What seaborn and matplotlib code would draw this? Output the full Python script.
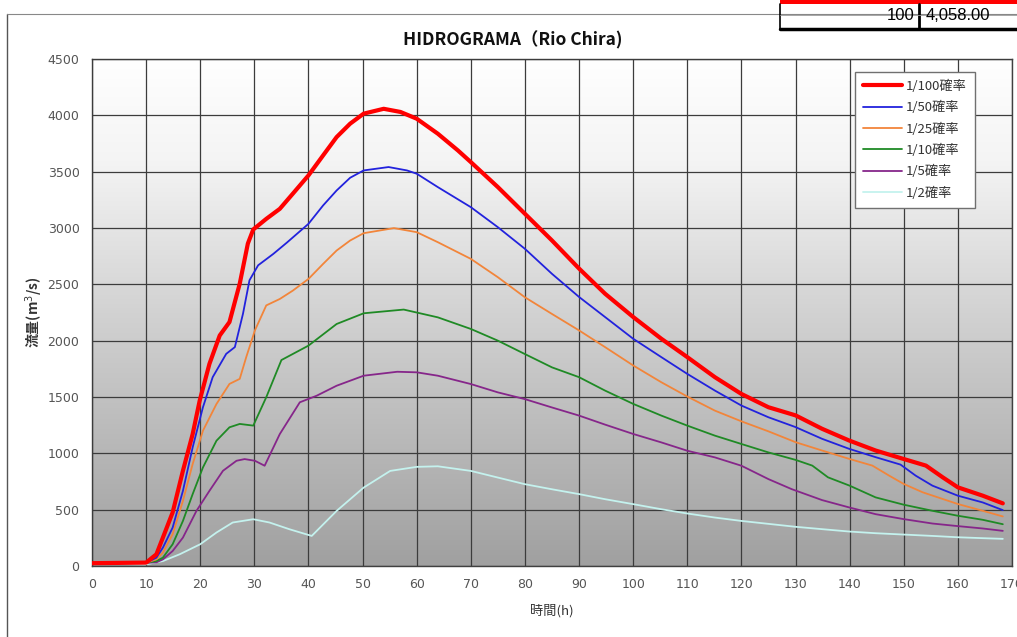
import numpy as np
import pandas as pd
import matplotlib
matplotlib.use("Agg")
import matplotlib.pyplot as plt
from matplotlib.patches import Rectangle
from matplotlib.lines import Line2D
import seaborn as sns

# ---------------- data ----------------
labels = ["1/100確率", "1/50確率", "1/25確率", "1/10確率", "1/5確率", "1/2確率"]

t_100 = [0, 10, 11.9, 13.1, 14.9, 16.8, 18.6, 19.9, 21.7, 23.6, 25.4, 27.3, 28.8, 29.8, 32.2, 34.7,
         37.1, 40, 42.7, 45.2, 47.7, 50.2, 53.9, 57, 60, 63.9, 67.6, 70, 75, 80, 85, 90, 94.8, 100,
         105.2, 110, 115.1, 120, 125, 130, 134.9, 139.9, 144.8, 149.9, 154.1, 157.2, 160, 164.6, 168.3]
q_100 = [25, 30, 104, 252, 475, 845, 1171, 1468, 1794, 2046, 2165, 2506, 2862, 2987, 3081, 3170,
         3304, 3467, 3644, 3807, 3926, 4015, 4058, 4030, 3970, 3837, 3689, 3585, 3363, 3126, 2889, 2640, 2417, 2210,
         2017, 1854, 1676, 1527, 1409, 1337, 1218, 1114, 1025, 951, 891, 787, 698, 624, 556]

t_50 = [0, 10, 11.9, 13.1, 14.9, 16.8, 18.6, 20.5, 22.3, 24.8, 26.4, 27.9, 29.1, 30.7, 33.5, 36,
        40, 42.7, 45.2, 47.7, 50.2, 54.8, 58.2, 60, 63.9, 70, 75, 80, 85, 90, 94.8, 100, 105.2, 110,
        115.1, 120, 125, 130, 134.9, 139.9, 144.8, 149.4, 152.2, 155.3, 160, 164.6, 168.3]
q_50 = [25, 28, 74, 163, 341, 667, 1053, 1409, 1676, 1883, 1943, 2239, 2536, 2669, 2770, 2870,
        3037, 3200, 3333, 3446, 3511, 3541, 3511, 3482, 3363, 3185, 3007, 2815, 2593, 2388, 2210, 2017, 1854, 1705,
        1557, 1424, 1320, 1233, 1129, 1040, 966, 900, 802, 713, 624, 564, 496]

t_25 = [0, 10, 11.9, 13.1, 14.9, 16.8, 18.6, 20.5, 23, 25.4, 27.3, 28.5, 30.1, 32.2, 34.7, 37.1,
        40, 42.7, 45.2, 47.7, 50.2, 55.8, 60, 63.9, 70, 75, 80, 85, 90, 94.8, 100, 105.2, 110,
        115.1, 120, 125, 130, 134.9, 139.9, 144.2, 147.3, 150, 153.5, 160, 164.6, 168.3]
q_25 = [25, 28, 59, 119, 282, 578, 905, 1201, 1438, 1616, 1661, 1854, 2091, 2313, 2370, 2444,
        2548, 2681, 2800, 2889, 2954, 2999, 2963, 2874, 2726, 2563, 2385, 2237, 2091, 1943, 1780, 1631, 1504,
        1379, 1284, 1195, 1099, 1025, 951, 891, 802, 728, 654, 550, 490, 440]

t_10 = [0, 10, 11.9, 13.1, 14.9, 16.8, 18.6, 20.5, 23, 25.4, 27.3, 29.8, 32.2, 35, 40, 45.2,
        50.2, 57.6, 63.9, 70, 75, 80, 85, 90, 94.8, 100, 105.2, 110, 115.1, 120, 125, 130, 133.1,
        136, 140, 144.8, 150, 155.3, 160, 164.6, 168.3]
q_10 = [25, 28, 44, 74, 193, 400, 638, 875, 1112, 1231, 1261, 1246, 1498, 1828, 1956, 2148,
        2243, 2276, 2207, 2104, 2000, 1881, 1763, 1676, 1557, 1439, 1335, 1246, 1157, 1083, 1008, 942, 891,
        787, 713, 609, 544, 490, 446, 410, 371]

t_5 = [0, 10, 11.9, 13.1, 14.9, 16.8, 19.3, 21.7, 24.2, 26.7, 28.2, 30.1, 31.9, 34.7, 38.4, 41.5,
       45.2, 50.2, 56.4, 60, 63.9, 70, 75, 80, 85, 90, 94.8, 100, 105.2, 110, 115.1, 120, 125,
       129.3, 134.9, 139.9, 144.8, 150, 155.3, 160, 164.6, 168.3]
q_5 = [25, 28, 32, 59, 133, 252, 489, 667, 845, 934, 949, 934, 890, 1171, 1453, 1511,
       1600, 1689, 1724, 1719, 1689, 1615, 1541, 1481, 1407, 1335, 1255, 1172, 1097, 1023, 964, 890, 771,
       682, 585, 520, 460, 416, 377, 354, 333, 312]

t_2 = [0, 10, 13.1, 16.2, 20, 23, 26, 29.8, 32.8, 36.5, 40.6, 45.2, 50.2, 55.1, 60, 63.9, 70,
       75, 80, 85, 90, 94.8, 100, 105.2, 110, 115.1, 120, 130, 134.9, 139.9, 144.8, 150, 155.3,
       160, 164.6, 168.3]
q_2 = [20, 15, 44, 104, 193, 297, 386, 415, 386, 326, 267, 489, 696, 844, 880, 885, 844,
       785, 726, 681, 638, 593, 549, 504, 466, 430, 400, 348, 327, 306, 291, 279, 267,
       255, 247, 241]

x_ticks = list(range(0, 171, 10))
y_ticks = list(range(0, 4501, 500))

# ---------------- styling ----------------
colors = ["#ff0000", "#2222dd", "#f2853a", "#1f8a25", "#86268a", "#c4f2ee"]
widths = [3.0, 1.3, 1.3, 1.3, 1.3, 1.3]

sns.set_theme(style="white")
plt.rcParams['font.family'] = ['DejaVu Sans', 'Noto Sans CJK JP']
cjk = ['Noto Sans CJK JP', 'DejaVu Sans']

fig = plt.figure(figsize=(10.17, 6.37), dpi=100)
fig.patch.set_facecolor("white")

W, H = 1017.0, 637.0
ax = fig.add_axes([92 / W, 1 - 566 / H, (1012 - 92) / W, (566 - 59) / H])

# gradient background
grad = np.linspace(0, 1, 256).reshape(-1, 1)
cmap = matplotlib.colors.LinearSegmentedColormap.from_list(
    "g", [(0.0, "#a0a0a0"), (0.5, "#d2d2d2"), (0.8, "#f4f4f4"), (1.0, "#ffffff")])
ax.imshow(grad, aspect="auto", cmap=cmap, origin="lower", extent=[0, 1, 0, 1],
          transform=ax.transAxes, zorder=0)

series = [(t_100, q_100), (t_50, q_50), (t_25, q_25), (t_10, q_10), (t_5, q_5), (t_2, q_2)]
# draw from back (1/2) to front (1/100)
for i in reversed(range(len(series))):
    t, q = series[i]
    df = pd.DataFrame({"t": t, "Q": q})
    sns.lineplot(data=df, x="t", y="Q", ax=ax, color=colors[i], linewidth=widths[i],
                 sort=False, estimator=None, legend=False, zorder=3 + (6 - i))

ax.set_xlim(0, 170)
ax.set_ylim(0, 4500)
ax.set_xticks(x_ticks)
ax.set_yticks(y_ticks)
ax.grid(True, color="#3c3c3c", linewidth=0.9, zorder=1)
ax.set_axisbelow(False)
for gl in ax.get_xgridlines() + ax.get_ygridlines():
    gl.set_zorder(1)
for s in ax.spines.values():
    s.set_color("#404040")
    s.set_linewidth(1.0)
ax.tick_params(axis="both", length=0, labelsize=9, colors="#555555", pad=9)

ax.set_xlabel("時間(h)", family=cjk, fontsize=9.5, color="#333333", labelpad=9)
ax.set_ylabel("流量(m$^3$/s)", family=cjk, fontsize=10, fontweight="bold",
              color="#333333", labelpad=2)
ax.set_title("HIDROGRAMA（Rio Chira)", family=cjk, fontsize=12.5, fontweight="bold",
             color="#111111", pad=10, x=(513 - 92) / 920.0)

handles = [Line2D([0], [0], color=colors[i], lw=(3 if i == 0 else 1.3)) for i in range(6)]
leg = ax.legend(handles, labels, loc="upper left", bbox_to_anchor=(0.829, 0.975),
                prop={"family": cjk, "size": 9.5}, frameon=True, fancybox=False,
                handlelength=3.0, handletextpad=0.3, labelspacing=0.62,
                borderpad=0.6, borderaxespad=0)
leg.get_frame().set_edgecolor("#707070")
leg.get_frame().set_linewidth(1.0)
leg.get_frame().set_facecolor("white")
leg.get_frame().set_alpha(1)
for txt in leg.get_texts():
    txt.set_color("#333333")

# chart outer frame
fig.add_artist(Line2D([7 / W, 7 / W], [0, 1 - 14 / H], transform=fig.transFigure,
                      color="#555555", lw=1.0))
fig.add_artist(Line2D([7 / W, 1.0], [1 - 14 / H, 1 - 14 / H], transform=fig.transFigure,
                      color="#888888", lw=0.8))

# fragment of table at top right
fig.add_artist(Rectangle((780 / W, 1 - 4 / H), (W - 780) / W, 4 / H, transform=fig.transFigure,
                         facecolor="#ff0000", edgecolor="none"))
fig.add_artist(Rectangle((780 / W, 1 - 29 / H), (W - 780) / W, 25 / H, transform=fig.transFigure,
                         facecolor="white", edgecolor="none"))
fig.add_artist(Line2D([780 / W, 1.0], [1 - 29 / H, 1 - 29 / H], transform=fig.transFigure,
                      color="black", lw=2.5))
fig.add_artist(Line2D([780 / W, 780 / W], [1 - 29 / H, 1 - 4 / H], transform=fig.transFigure,
                      color="black", lw=1.2))
fig.add_artist(Line2D([919 / W, 919 / W], [1 - 29 / H, 1 - 4 / H], transform=fig.transFigure,
                      color="black", lw=2.0))
fig.add_artist(Line2D([780 / W, 1.0], [1 - 15 / H, 1 - 15 / H], transform=fig.transFigure,
                      color="#999999", lw=0.6))
fig.text(914 / W, 1 - 16 / H, "100", ha="right", va="center", fontsize=12,
         family="Liberation Sans", color="black")
fig.text(926 / W, 1 - 16 / H, "4,058.00", ha="left", va="center", fontsize=12,
         family="Liberation Sans", color="black")

fig.savefig("out.png", dpi=100)
